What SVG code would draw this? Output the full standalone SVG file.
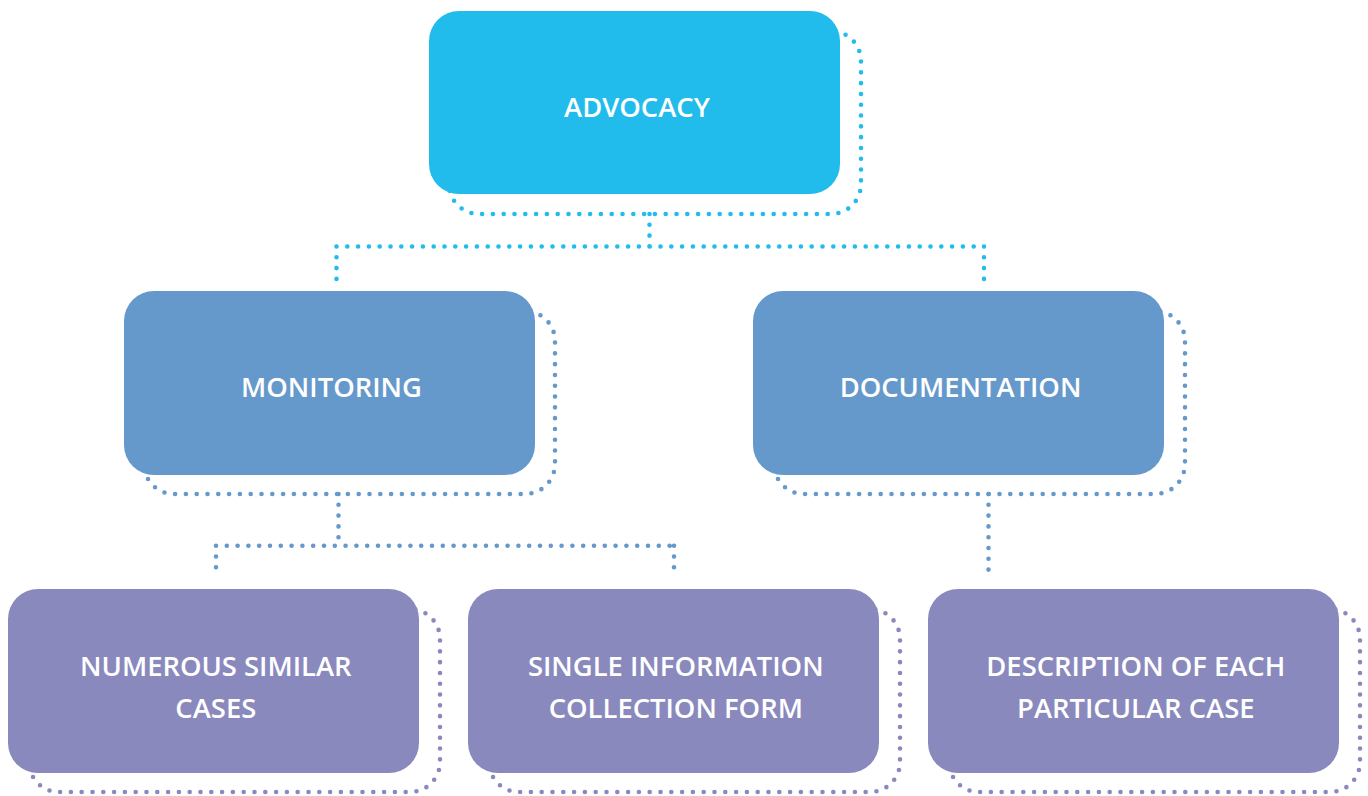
<svg xmlns="http://www.w3.org/2000/svg" width="1368" height="796" viewBox="0 0 1368 796">
<style>
.dot{fill:none;stroke-width:4.6;stroke-dasharray:0 10.8;stroke-linecap:round;stroke-linejoin:round}
.c1{stroke:#22BCEC}
.c2{stroke:#6699CB}
.c3{stroke:#8A89BE}
.f1{fill:#22BCEC}
.f2{fill:#6699CB}
.f3{fill:#8A89BE}
.lbl{fill:#FFFFFF;font-family:"Open Sans","Noto Sans",sans-serif;font-weight:600;font-size:27.4px;text-anchor:middle}
</style>
<rect width="1368" height="796" fill="#FFFFFF"/>
<g id="connectors">
<path class="dot c1" d="M649.5 214 V246.5 M336.5 246.5 H984 M336.5 246.5 V279 M984 246.5 V279"/>
<path class="dot c2" d="M338.5 494 V545.7 M216 545.7 H674 M216 545.7 V578 M674 545.7 V578"/>
<path class="dot c2" d="M988.5 494 V578"/>
</g>
<g id="advocacy">
<rect class="dot c1" x="449" y="31" width="412" height="183" rx="30"/>
<rect class="f1" x="429" y="11" width="411" height="183" rx="30"/>
<text class="lbl" x="637" y="116.5">ADVOCACY</text>
</g>
<g id="monitoring">
<rect class="dot c2" x="144" y="311" width="411" height="183" rx="30"/>
<rect class="f2" x="124" y="291" width="411" height="184" rx="30"/>
<text class="lbl" x="331.5" y="396.5">MONITORING</text>
</g>
<g id="documentation">
<rect class="dot c2" x="774" y="311" width="411" height="183" rx="30"/>
<rect class="f2" x="753" y="291" width="411" height="184" rx="30"/>
<text class="lbl" x="960.5" y="396.5">DOCUMENTATION</text>
</g>
<g id="numerous">
<rect class="dot c3" x="29" y="609" width="411" height="183" rx="30"/>
<rect class="f3" x="8" y="589" width="411" height="184" rx="30"/>
<text class="lbl" x="215.8" y="675.5">NUMEROUS SIMILAR</text>
<text class="lbl" x="215.8" y="717.5">CASES</text>
</g>
<g id="single">
<rect class="dot c3" x="489" y="609" width="411" height="183" rx="30"/>
<rect class="f3" x="468" y="589" width="411" height="184" rx="30"/>
<text class="lbl" x="675.8" y="675.5">SINGLE INFORMATION</text>
<text class="lbl" x="675.8" y="717.5">COLLECTION FORM</text>
</g>
<g id="description">
<rect class="dot c3" x="949" y="609" width="411" height="183" rx="30"/>
<rect class="f3" x="928" y="589" width="411" height="184" rx="30"/>
<text class="lbl" x="1135.8" y="675.5">DESCRIPTION OF EACH</text>
<text class="lbl" x="1135.8" y="717.5">PARTICULAR CASE</text>
</g>
</svg>
